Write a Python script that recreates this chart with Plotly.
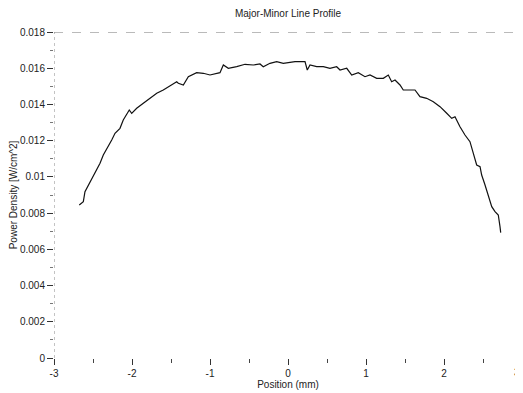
import plotly.graph_objects as go

# Values
position_mm = [
    -2.676, -2.624, -2.603, -2.538, -2.474, -2.410, -2.368, -2.304, -2.260, -2.218,
    -2.154, -2.112, -2.035, -2.004, -1.940, -1.855, -1.769, -1.683, -1.599, -1.513,
    -1.427, -1.406, -1.342, -1.278, -1.171, -1.086, -1.000, -0.872, -0.829, -0.765,
    -0.658, -0.551, -0.445, -0.359, -0.317, -0.231, -0.145, -0.060, 0.004, 0.090,
    0.218, 0.247, 0.282, 0.368, 0.453, 0.538, 0.624, 0.667, 0.753, 0.817,
    0.901, 0.987, 1.051, 1.137, 1.222, 1.286, 1.329, 1.372, 1.436, 1.478,
    1.564, 1.628, 1.692, 1.778, 1.863, 1.949, 2.035, 2.099, 2.141, 2.205,
    2.269, 2.333, 2.376, 2.419, 2.462, 2.483, 2.526, 2.568, 2.612, 2.654,
    2.696, 2.718, 2.727,
]
power_density = [
    0.008448, 0.008630, 0.009182, 0.009734, 0.010287, 0.010750, 0.011209, 0.011667, 0.012037, 0.012407,
    0.012683, 0.013141, 0.013693, 0.013511, 0.013787, 0.014063, 0.014339, 0.014615, 0.014798, 0.015020,
    0.015256, 0.015168, 0.015074, 0.015532, 0.015753, 0.015720, 0.015626, 0.015753, 0.016178, 0.015996,
    0.016084, 0.016217, 0.016178, 0.016233, 0.016084, 0.016272, 0.016360, 0.016272, 0.016305, 0.016360,
    0.016360, 0.015902, 0.016178, 0.016084, 0.016084, 0.015996, 0.016084, 0.015902, 0.015996, 0.015626,
    0.015753, 0.015532, 0.015626, 0.015444, 0.015444, 0.015626, 0.015256, 0.015350, 0.015074, 0.014798,
    0.014798, 0.014798, 0.014428, 0.014339, 0.014152, 0.013876, 0.013511, 0.013235, 0.013324, 0.012771,
    0.012313, 0.011943, 0.011302, 0.010657, 0.010563, 0.010104, 0.009552, 0.009000, 0.008354, 0.008078,
    0.007896, 0.007250, 0.006919,
]
x_tick_vals = [-3, -2, -1, 0, 1, 2, 3]
x_tick_text = ["-3", "-2", "-1", "0", "1", "2", "3"]
y_tick_vals = [0, 0.002, 0.004, 0.006, 0.008, 0.01, 0.012, 0.014, 0.016, 0.018]
y_tick_text = ["0", "0.002", "0.004", "0.006", "0.008", "0.01", "0.012", "0.014", "0.016", "0.018"]

FONT = "Liberation Sans, Arial, sans-serif"

fig = go.Figure()
fig.add_trace(go.Scatter(
    x=position_mm, y=power_density, mode="lines",
    line=dict(color="#111111", width=1.2), showlegend=False,
))

# dashed top border at 0.018 and dotted left axis
fig.add_shape(type="line", xref="paper", yref="y", x0=0, x1=1, y0=0.018, y1=0.018,
              line=dict(color="#777777", width=1, dash="dash"))
fig.add_shape(type="line", xref="x", yref="paper", x0=-3, x1=-3, y0=0, y1=1,
              line=dict(color="#888888", width=1, dash="dot"))

# last x tick label sits at the right edge; draw it right-anchored so it stays visible
shown_x_text = x_tick_text[:-1] + [""]
fig.add_annotation(x=x_tick_vals[-1], y=0, xref="x", yref="paper",
                   text=x_tick_text[-1], showarrow=False,
                   xanchor="right", yanchor="top", yshift=-7,
                   font=dict(family=FONT, size=10, color="#222222"))

W, H = 515, 385  # the page body adds an 8px offset in the 523x393 window
fig.update_layout(
    width=W, height=H,
    margin=dict(l=46, r=1, t=24, b=35),
    paper_bgcolor="white", plot_bgcolor="white",
    font=dict(family=FONT, size=10, color="#222222"),
    title=dict(text="Major-Minor Line Profile", x=0.5, xref="paper",
               y=1 - 5 / H, yref="container", yanchor="middle",
               font=dict(size=10, family=FONT, color="#222222")),
    xaxis=dict(
        range=[-3, 3], tickvals=x_tick_vals, ticktext=shown_x_text,
        ticks="outside", ticklen=6, tickcolor="#333333", tickwidth=1,
        minor=dict(ticks="outside", ticklen=4, dtick=0.5, tickcolor="#444444", showgrid=False),
        showgrid=False, zeroline=False, showline=False, automargin=False,
        title=dict(text="Position (mm)", standoff=0, font=dict(size=10)),
        tickfont=dict(size=10),
    ),
    yaxis=dict(
        range=[0, 0.018], tickvals=y_tick_vals, ticktext=y_tick_text,
        ticks="outside", ticklen=6, tickcolor="#333333", tickwidth=1,
        minor=dict(ticks="outside", ticklen=3, dtick=0.001, tickcolor="#777777", showgrid=False),
        showgrid=False, zeroline=False, showline=False, automargin=False,
        title=dict(text="Power Density [W/cm^2]", standoff=0, font=dict(size=10)),
        tickfont=dict(size=10),
    ),
)

fig.write_html("out.html")
